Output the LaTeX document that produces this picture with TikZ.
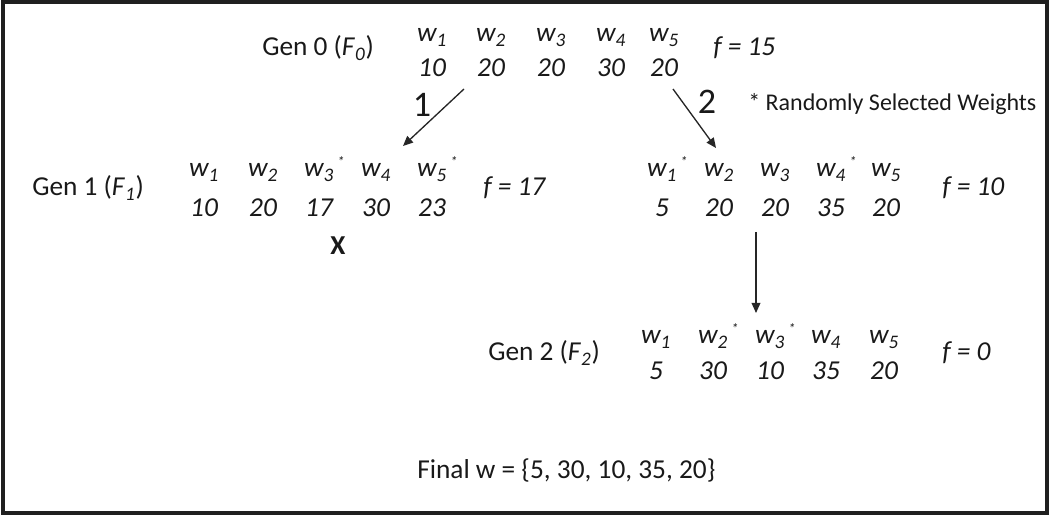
\documentclass[tikz,border=0pt]{standalone}
\usepackage{fontspec}
\setmainfont{Carlito}
\usetikzlibrary{arrows.meta}
\newcommand\wlab[2]{\textit{w}\textsubscript{\textit{#1}}\rlap{#2}}
\newcommand\wstar{\hspace{2.5pt}\raisebox{7.5pt}{\fontsize{10.5pt}{10.5pt}\selectfont *}}
\begin{document}
\begin{tikzpicture}[x=0.75pt,y=-0.75pt,
  txt/.style={inner sep=0pt,text=black!90,font=\fontsize{20.5pt}{24pt}\selectfont},
  lbl/.style={txt,anchor=base west},
  wt/.style={txt,anchor=base,font=\fontsize{20.5pt}{24pt}\selectfont\itshape},
  fit/.style={lbl,font=\fontsize{20.5pt}{24pt}\selectfont\itshape},
  big/.style={inner sep=0pt,text=black!90,font=\fontsize{27pt}{30pt}\selectfont},
  arr/.style={line width=1pt,black!85,-{Triangle[length=7.5pt,width=6.5pt]}}]
\useasboundingbox (0,0) rectangle (1050,516);
\draw[line width=3pt,black!88] (3,2.5) rectangle (1047,513.5);
% Gen 0
\node[lbl] (g0) at (262,56) {Gen 0 (\textit{F}\textsubscript{\textit{0}})};
\foreach \i/\x/\v in {1/432/10,2/491/20,3/551/20,4/611/30,5/664/20}{
  \node[wt] (g0w\i) at (\x,42) {\wlab{\i}{}};
  \node[wt] (g0n\i) at (\x,77) {\v};
}
\node[fit] (f0) at (713,56) {f = 15};
% arrows from Gen 0
\coordinate (a1s) at (464,89);
\coordinate (a1e) at (403,146);
\coordinate (a2s) at (673,89);
\coordinate (a2e) at (716,148);
\draw[arr] (a1s) -- (a1e);
\draw[arr] (a2s) -- (a2e);
\node[big] (l1) at (422,105) {1};
\node[big] (l2) at (707,102) {2};
\node[inner sep=0pt,anchor=base west,text=black!90,font=\fontsize{18pt}{21pt}\selectfont] (note) at (748,111) {* Randomly Selected Weights};
% Gen 1 left
\node[lbl] (g1) at (32,196) {Gen 1 (\textit{F}\textsubscript{\textit{1}})};
\foreach \i/\x/\s/\v in {1/204//10,2/263//20,3/319/\wstar/17,4/376//30,5/432/\wstar/23}{
  \node[wt] (g1w\i) at (\x,177) {\wlab{\i}{\s}};
  \node[wt] (g1n\i) at (\x,217) {\v};
}
\node[fit] (f1) at (483,196) {f = 17};
\node[txt,anchor=base,font=\fontsize{20.5pt}{24pt}\selectfont\bfseries] (xx) at (338,255) {X};
% Gen 1 right
\foreach \i/\x/\s/\v in {1/662/\wstar/5,2/719//20,3/775//20,4/831/\wstar/35,5/886//20}{
  \node[wt] (g1rw\i) at (\x,177) {\wlab{\i}{\s}};
  \node[wt] (g1rn\i) at (\x,217) {\v};
}
\node[fit] (f1r) at (942,196) {f = 10};
% arrow down
\coordinate (a3s) at (756,232);
\coordinate (a3e) at (756,313);
\draw[arr] (a3s) -- (a3e);
% Gen 2
\node[lbl] (g2) at (488,361) {Gen 2 (\textit{F}\textsubscript{\textit{2}})};
\foreach \i/\x/\s/\v in {1/656//5,2/713/\wstar/30,3/770/\wstar/10,4/826//35,5/884//20}{
  \node[wt] (g2w\i) at (\x,344) {\wlab{\i}{\s}};
  \node[wt] (g2n\i) at (\x,380) {\v};
}
\node[fit] (f2) at (942,361) {f = 0};
% final
\node[lbl] (final) at (417,479) {Final w = \{5, 30, 10, 35, 20\}};
\end{tikzpicture}
\end{document}
